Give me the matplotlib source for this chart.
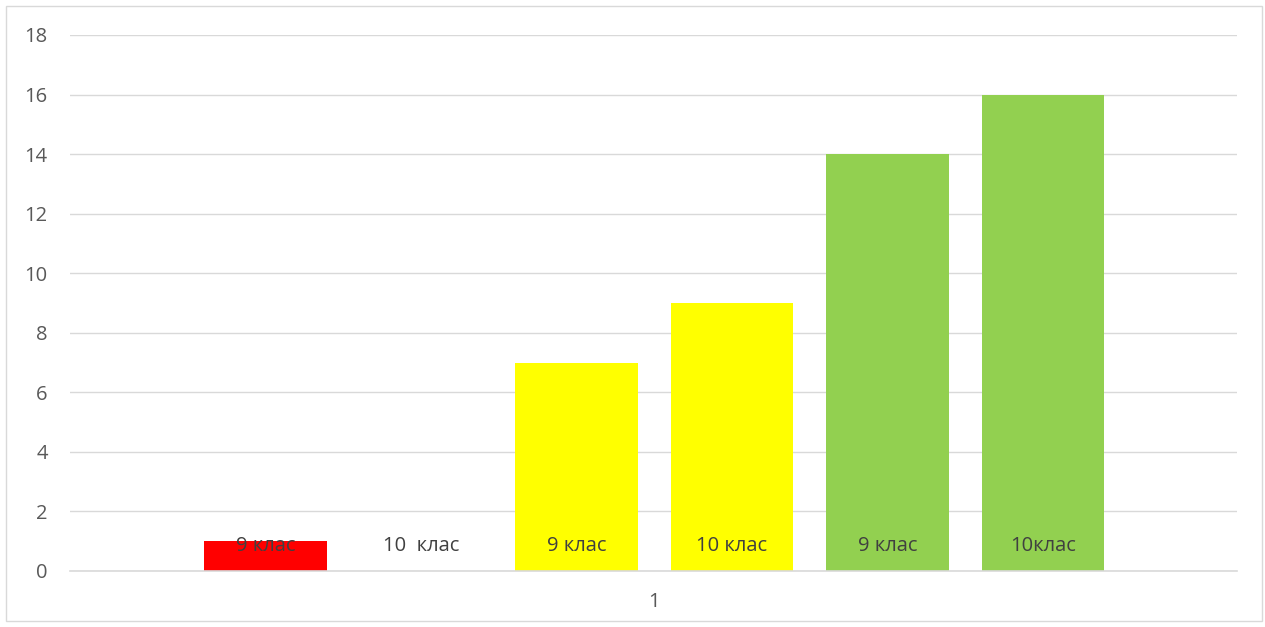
import matplotlib
matplotlib.use('Agg')
import matplotlib.pyplot as plt
from matplotlib.patches import Rectangle

# Data
labels = ['9 клас', '10  клас', '9 клас', '10 клас', '9 клас', '10клас']
values = [1, 0, 7, 9, 14, 16]
colors = ['#FF0000', '#FFFFFF', '#FFFF00', '#FFFF00', '#92D050', '#92D050']
category = ['1']

plt.rcParams['font.family'] = ['Open Sans', 'DejaVu Sans']

fig = plt.figure(figsize=(12.65, 6.27), dpi=100)
ax = fig.add_axes([70 / 1265, 56 / 627, 1167 / 1265, 536 / 627])

xpos = list(range(len(values)))
ax.bar(xpos, values, width=0.79, color=colors, zorder=2)

# Labels inside the bars, near the base
for x, lab in zip(xpos, labels):
    ax.text(x, 0.83, lab, ha='center', va='center', fontsize=14.5, color='#404040', zorder=3)

ax.set_xlim(-1.257, 6.248)
ax.set_ylim(0, 18)
ax.set_yticks(range(0, 19, 2))
ax.set_xticks([(len(values) - 1) / 2])
ax.set_xticklabels(category)

ax.grid(axis='y', color='#D9D9D9', linewidth=1, zorder=0)
for side in ['top', 'right', 'left']:
    ax.spines[side].set_visible(False)
ax.spines['bottom'].set_color('#D9D9D9')
ax.spines['bottom'].set_linewidth(1.2)
ax.spines['bottom'].set_zorder(4)

ax.tick_params(axis='y', length=0, pad=16, labelsize=14.5, labelcolor='#595959')
ax.tick_params(axis='x', length=0, pad=15, labelsize=14.5, labelcolor='#595959')

# Chart area border
fig.patches.append(Rectangle((6 / 1265, 6 / 627), 1256 / 1265, 615 / 627,
                             transform=fig.transFigure, fill=False,
                             edgecolor='#D9D9D9', linewidth=1))

plt.savefig('out.png', dpi=100)
plt.close()
